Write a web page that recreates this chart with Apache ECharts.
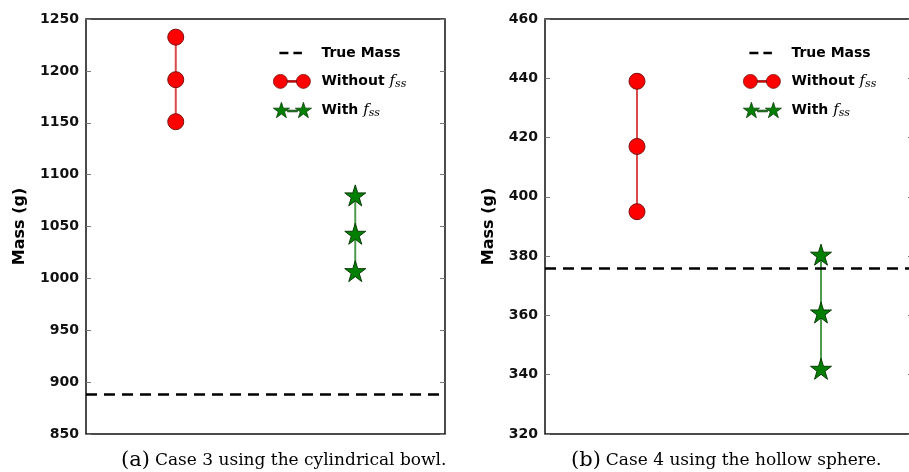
<!DOCTYPE html>
<html>
<head>
<meta charset="utf-8">
<script src="https://cdn.jsdelivr.net/npm/echarts@6/dist/echarts.min.js"></script>
<style>
html,body{margin:0;padding:0;background:#fff;}
#main{width:909px;height:472px;}
</style>
</head>
<body>
<div id="main"></div>
<script>
// x slot of each method: 1 = without f_ss, 2 = with f_ss
var methodX = [1, 2];
// (a) case 3, cylindrical bowl
var caseA_without = [1151, 1191.5, 1232.5];
var caseA_with = [1007, 1043, 1080];
var caseA_true = 888;
var caseA_ticks = [850, 900, 950, 1000, 1050, 1100, 1150, 1200, 1250];
// (b) case 4, hollow sphere
var caseB_without = [395, 417, 439];
var caseB_with = [342, 361, 380.5];
var caseB_true = 376;
var caseB_ticks = [320, 340, 360, 380, 400, 420, 440, 460];
var captionTags = ['(a)', '(b)'];
var captionTexts = ['Case 3 using the cylindrical bowl.', 'Case 4 using the hollow sphere.'];
var seriesNames = ['True Mass', 'Without f_ss', 'With f_ss'];

function toPoints(x, arr){
	var out = [];
	for(var i=0;i<arr.length;i++){
		out.push([x, arr[i]]);
	}
	return out;
}
function starPath(cx, cy, R){
	var r = R*0.382;
	var s = '';
	for(var i=0;i<10;i++){
		var rad = (i%2==0) ? R : r;
		var a = -Math.PI/2 + i*Math.PI/5;
		s += (i==0 ? 'M' : 'L') + (cx+rad*Math.cos(a)).toFixed(2) + ',' + (cy+rad*Math.sin(a)).toFixed(2);
	}
	return s + 'Z';
}
function circlePath(cx, cy, r){
	return 'M'+(cx-r)+','+cy+'a'+r+','+r+' 0 1,0 '+(2*r)+',0a'+r+','+r+' 0 1,0 '+(-2*r)+',0Z';
}
// tiny corner specks keep the icon box at 44x16
var box = 'M0,0L0.01,0L0.01,0.01ZM44,16L43.99,16L43.99,15.99Z';
var iconTrue = 'path://' + box + 'M7,6.8L16,6.8L16,9.2L7,9.2ZM21,6.8L29.5,6.8L29.5,9.2L21,9.2Z';
var iconWithout = 'path://' + box + circlePath(8,8,7) + circlePath(31,8,7) + 'M15,7.2L24,7.2L24,8.8L15,8.8Z';
var iconWith = 'path://' + box + starPath(9,8.6,8.5) + starPath(31,8.6,8.5) + 'M15,8L25,8L25,9.6L15,9.6Z';
var starSymbol = 'path://' + starPath(0,0,10);

var myChart = echarts.init(document.getElementById('main'));

var panels = [
	{ left: 86, width: 359, ticks: caseA_ticks, without: caseA_without, withf: caseA_with, trueMass: caseA_true, nameGap: 58, legendLeft: 272, capLeft: 116 },
	{ left: 545, width: 368, ticks: caseB_ticks, without: caseB_without, withf: caseB_with, trueMass: caseB_true, nameGap: 48, legendLeft: 742, capLeft: 566 }
];

var grid = [], xAxis = [], yAxis = [], series = [], legend = [], title = [];
for(var p=0;p<panels.length;p++){
	var pn = panels[p];
	var t = pn.ticks;
	grid.push({ left: pn.left, top: 19, width: pn.width, height: 415, show: true, borderColor: '#111', borderWidth: 1.5, backgroundColor: 'transparent', outerBoundsMode: 'none' });
	xAxis.push({ gridIndex: p, type: 'value', min: 0.5, max: 2.5, show: false });
	yAxis.push({
		gridIndex: p, type: 'value', position: 'left',
		min: t[0], max: t[t.length-1], interval: t[1]-t[0],
		name: 'Mass (g)', nameLocation: 'middle', nameGap: pn.nameGap,
		nameTextStyle: { fontFamily: 'DejaVu Sans', fontWeight: 'bold', fontSize: 16, color: '#000' },
		axisLine: { show: false },
		axisTick: { show: true, inside: true, length: 5, lineStyle: { color: '#777', width: 1 } },
		axisLabel: { fontFamily: 'DejaVu Sans', fontWeight: 'bold', fontSize: 14, color: '#111', margin: 7,
			formatter: function(v){ return String(v); } },
		splitLine: { show: false }
	});
	yAxis.push({
		gridIndex: p, type: 'value', position: 'right',
		min: t[0], max: t[t.length-1], interval: t[1]-t[0],
		axisLine: { show: false },
		axisTick: { show: true, inside: true, length: 5, lineStyle: { color: '#777', width: 1 } },
		axisLabel: { show: false },
		splitLine: { show: false }
	});
	series.push({
		name: seriesNames[0], type: 'line', xAxisIndex: p, yAxisIndex: p*2, data: [],
		itemStyle: { color: '#000' },
		markLine: {
			silent: true, symbol: ['none','none'], label: { show: false },
			lineStyle: { color: '#000', type: [11,7], width: 2.5 },
			data: [{ yAxis: pn.trueMass }]
		}
	});
	series.push({
		name: seriesNames[1], type: 'line', xAxisIndex: p, yAxisIndex: p*2,
		data: toPoints(methodX[0], pn.without),
		symbol: 'circle', symbolSize: 16, showAllSymbol: true,
		itemStyle: { color: '#ff0000', borderColor: '#7a1010', borderWidth: 1 },
		lineStyle: { color: '#d94a4a', width: 2 }
	});
	series.push({
		name: seriesNames[2], type: 'line', xAxisIndex: p, yAxisIndex: p*2,
		data: toPoints(methodX[1], pn.withf),
		symbol: starSymbol, symbolSize: 21, showAllSymbol: true,
		itemStyle: { color: '#007f00', borderColor: '#0b3d0b', borderWidth: 1 },
		lineStyle: { color: '#4c9a4c', width: 2 }
	});
	legend.push({
		orient: 'vertical', left: pn.legendLeft, top: 45, padding: 0,
		itemWidth: 44, itemHeight: 16, itemGap: 12,
		selectedMode: false,
		textStyle: {
			fontFamily: 'DejaVu Sans', fontWeight: 'bold', fontSize: 14, color: '#000',
			rich: {
				f: { fontFamily: 'DejaVu Serif', fontStyle: 'italic', fontWeight: 'normal', fontSize: 15, color: '#000' },
				s: { fontFamily: 'DejaVu Serif', fontStyle: 'italic', fontWeight: 'normal', fontSize: 11, color: '#000', padding: [5,0,0,0] }
			}
		},
		formatter: function(name){
			return name.replace(' f_ss', ' {f|f}{s|ss}');
		},
		data: [
			{ name: seriesNames[0], icon: iconTrue, itemStyle: { borderWidth: 0 } },
			{ name: seriesNames[1], icon: iconWithout, itemStyle: { borderColor: '#7a1010', borderWidth: 0.8 } },
			{ name: seriesNames[2], icon: iconWith, itemStyle: { borderColor: '#0b3d0b', borderWidth: 0.8 } }
		]
	});
	title.push({
		left: pn.capLeft, top: 445,
		text: '{a|' + captionTags[p] + '} {b|' + captionTexts[p] + '}',
		textStyle: {
			fontWeight: 'normal',
			rich: {
				a: { fontFamily: 'DejaVu Serif', fontWeight: 'normal', fontSize: 21, color: '#000' },
				b: { fontFamily: 'DejaVu Serif', fontWeight: 'normal', fontSize: 17, color: '#000' }
			}
		}
	});
}

var option = {
	animation: false,
	backgroundColor: '#fff',
	title: title,
	legend: legend,
	grid: grid,
	xAxis: xAxis,
	yAxis: yAxis,
	series: series
};
myChart.setOption(option);
</script>
</body>
</html>
